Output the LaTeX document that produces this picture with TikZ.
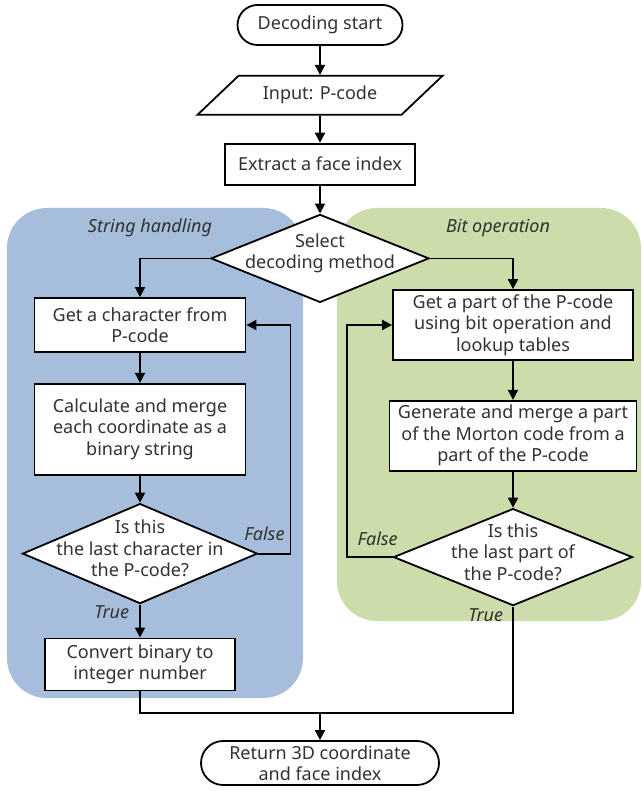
\documentclass[tikz,border=0pt]{standalone}
\usepackage{fontspec}
\setmainfont{Noto Sans}
\usetikzlibrary{arrows.meta,shapes.geometric,shapes.misc,positioning}
\definecolor{stringblue}{RGB}{166,190,219}
\definecolor{bitgreen}{RGB}{204,220,170}
\definecolor{textgray}{RGB}{50,50,50}

\begin{document}
\begin{tikzpicture}[x=1pt, y=-1pt, line width=1.8pt, node distance=28pt,
    font=\fontsize{18}{21.5}\selectfont, text=textgray,
    term/.style={rounded rectangle, draw=black, fill=white, align=center, inner sep=1pt},
    io/.style={trapezium, trapezium left angle=39, trapezium right angle=141, trapezium stretches=true,
      draw=black, fill=white, minimum width=245pt, minimum height=39pt},
    proc/.style={rectangle, draw=black, fill=white, align=center, inner sep=2pt},
    decision/.style={diamond, draw=black, fill=white, inner sep=0pt},
    inside/.style={align=center, inner sep=0pt, yshift=5pt},
    arr/.style={-{Triangle[length=10pt,width=10pt]}},
    lbl/.style={font=\fontsize{18}{21}\selectfont\itshape, inner sep=1pt}]
  \useasboundingbox (0,0) rectangle (642,791);

  % regions
  \fill[stringblue, rounded corners=40pt] (7,208) rectangle (303,698);
  \fill[bitgreen, rounded corners=40pt] (337,208) rectangle (641,621);
  \node[lbl] (strlabel) at (150,228) {String handling};
  \node[lbl] (bitlabel) at (498,228) {Bit operation};

  % main column
  \node[term, minimum width=167pt, minimum height=40pt] (start) at (320,25) {Decoding start};
  \node[io, below=29pt of start] (input) {Input: P-code};
  \node[proc, below=27pt of input, minimum width=190pt, minimum height=41pt] (face) {Extract a face index};
  \node[decision, below=28pt of face, minimum width=218pt, minimum height=88pt,
    label={[inside]center:{Select\\decoding method}}] (select) {};

  % string handling
  \node[proc, minimum width=211pt, minimum height=54pt] (getchar) at (140,325) {Get a character from\\P-code};
  \node[proc, below=30pt of getchar, minimum width=211pt, minimum height=91pt] (calc)
    {Calculate and merge\\each coordinate as a\\binary string};
  \node[decision, below=27pt of calc, minimum width=235pt, minimum height=100pt,
    label={[inside]center:{Is this\\the last character in\\the P-code?}}] (lastchar) {};
  \node[proc, below=33pt of lastchar, minimum width=190pt, minimum height=52pt] (conv)
    {Convert binary to\\integer number};

  % bit operation
  \node[proc, minimum width=240pt, minimum height=70pt] (getpart) at (513,325)
    {Get a part of the P-code\\using bit operation and\\lookup tables};
  \node[proc, below=39pt of getpart, minimum width=247pt, minimum height=70pt] (morton)
    {Generate and merge a part\\of the Morton code from a\\part of the P-code};
  \node[decision, below=36pt of morton, minimum width=239pt, minimum height=97pt,
    label={[inside]center:{Is this\\the last part of\\the P-code?}}] (lastpart) {};

  \node[term, minimum width=240pt, minimum height=44pt] (stop) at (320,763)
    {Return 3D coordinate\\and face index};

  % connectors
  \draw[arr] (start) -- (input);
  \draw[arr] (input) -- (face);
  \draw[arr] (face) -- (select);
  \draw[arr] (select.west) -| (getchar.north);
  \draw[arr] (select.east) -| (getpart.north);
  \draw[arr] (getchar) -- (calc);
  \draw[arr] (calc) -- (lastchar);
  \draw[arr] (lastchar.east) -- ++(32pt,0) |- (getchar.east);
  \draw[arr] (lastchar) -- (conv);
  \draw[arr] (getpart) -- (morton);
  \draw[arr] (morton) -- (lastpart);
  \draw[arr] (lastpart.west) -- ++(-46pt,0) |- (getpart.west);
  \coordinate (join) at (320,713);
  \draw (conv.south) |- (join) -| (lastpart.south);
  \draw[arr] (join) -- (stop);

  % branch labels
  \node[lbl, anchor=south east] (charfalse) at ([xshift=28pt,yshift=11pt]lastchar.east) {False};
  \node[lbl, anchor=north east] (chartrue) at ([xshift=-9pt,yshift=1pt]lastchar.south) {True};
  \node[lbl, anchor=south west] (partfalse) at ([xshift=-37pt,yshift=10pt]lastpart.west) {False};
  \node[lbl, anchor=north east] (parttrue) at ([xshift=-8pt]lastpart.south) {True};
\end{tikzpicture}
\end{document}
